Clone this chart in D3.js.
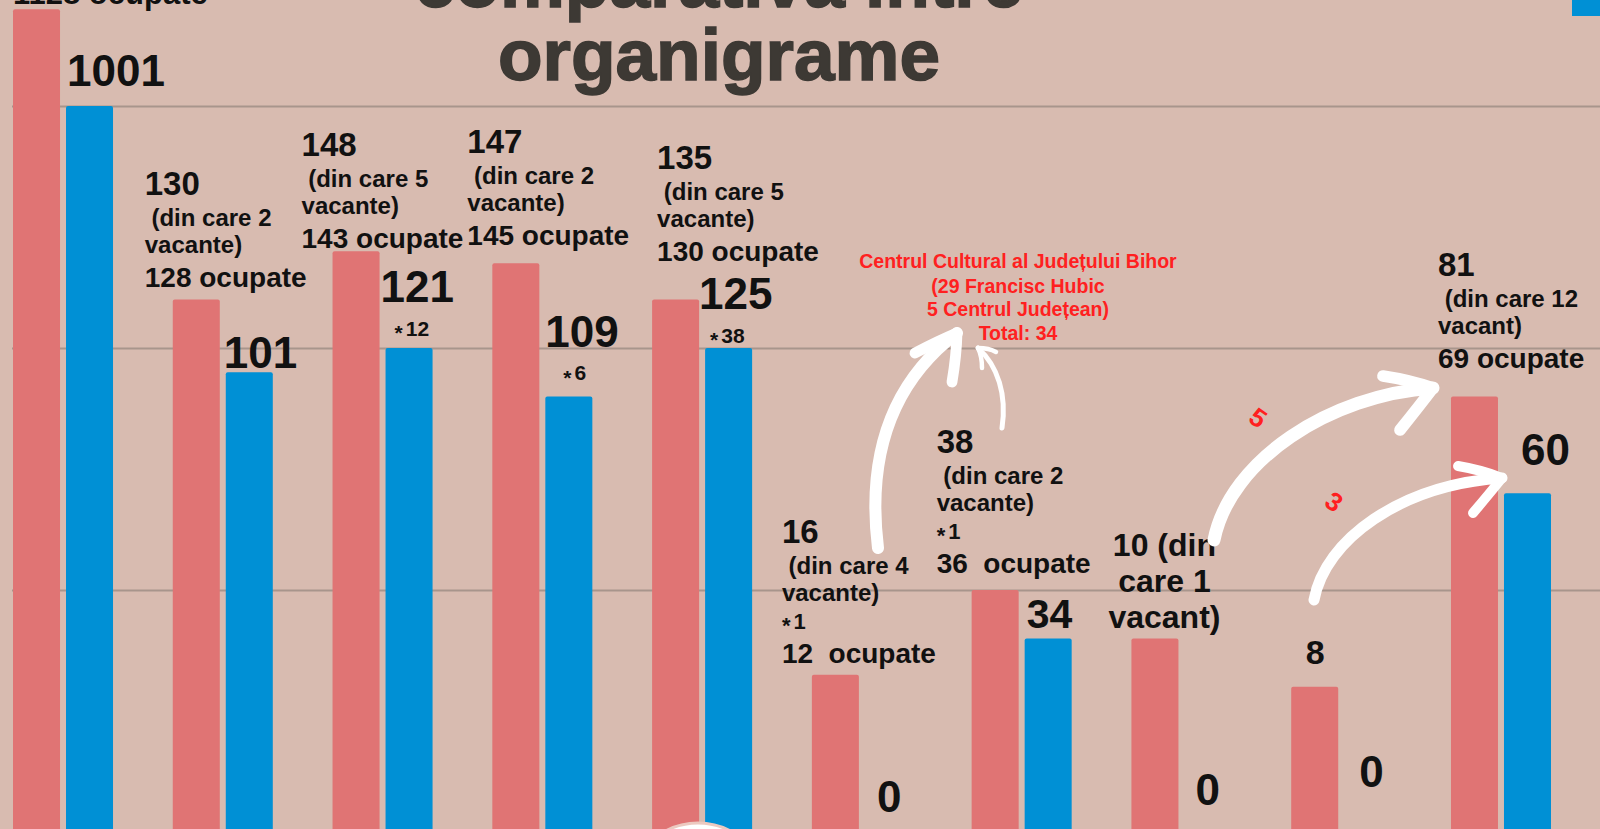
<!DOCTYPE html>
<html>
<head>
<meta charset="utf-8">
<script src="https://cdn.jsdelivr.net/npm/d3@7"></script>
<style>
  html, body { margin: 0; padding: 0; background: #d8bbb0; }
  svg { display: block; }
</style>
</head>
<body>
<div id="chart"></div>
<script>
// --- Data ---
const categories = ["g1", "g2", "g3", "g4", "g5", "g6", "g7", "g8", "g9", "g10"];
// bar heights as plotted (chart units, one gridline = 100)
const redValues = [340, 220, 240, 235, 220, 65, 100, 80, 60, 180];
const blueValues = [300, 190, 200, 180, 200, 0, 80, 0, 0, 140];

const redLabelLines = [
  ["1128 ocupate"],
  ["130", " (din care 2", "vacante)", "128 ocupate"],
  ["148", " (din care 5", "vacante)", "143 ocupate"],
  ["147", " (din care 2", "vacante)", "145 ocupate"],
  ["135", " (din care 5", "vacante)", "130 ocupate"],
  ["16", " (din care 4", "vacante)", "*1", "12  ocupate"],
  ["38", " (din care 2", "vacante)", "*1", "36  ocupate"],
  ["10 (din", "care 1", "vacant)"],
  ["8"],
  ["81", " (din care 12", "vacant)", "69 ocupate"]
];
const blueLabels = ["1001", "101", "121", "109", "125", "0", "34", "0", "0", "60"];
const blueNotes = [null, null, "*12", "*6", "*38", null, null, null, null, null];

const titleLines = ["comparativa intre", "organigrame"];
const noteLines = ["Centrul Cultural al Județului Bihor", "(29 Francisc Hubic", "5 Centrul Județean)", "Total: 34"];
const arrowNumbers = ["5", "3"];

// --- Layout (label offsets relative to the bar they describe) ---
const redBlock = [
  { dx: 0, dy: 5, size: 31 },
  { dx: -28, dy: 105 },
  { dx: -31, dy: 95 },
  { dx: -25, dy: 110 },
  { dx: 5, dy: 131 },
  { dx: -30, dy: 132 },
  { dx: -35, dy: 137 },
  { dx: 33, dy: 82, size: 32, gap: 36, anchor: "middle" },
  { dx: 24, dy: 23, size: 34, anchor: "middle" },
  { dx: -13, dy: 120 }
];
const blueBlock = [[1, 20], [-2, 4], [-5, 46], [0, 49], [-6, 39], [12, 20], [2, 10], [11, 27], [15, 45], [17, 28]];
const blueNoteBlock = [null, null, [9, 12], [18, 16], [5, 5]];

const colors = { red: "#e07474", blue: "#0090d5", bg: "#d8bbb0", grid: "#a8958c", title: "#3d3934", note: "#ff2020" };
const font = "'Liberation Sans', Arial, sans-serif";

// --- SVG Setup ---
const width = 1600, height = 829;
const svg = d3.select("#chart").append("svg")
  .attr("width", width).attr("height", height)
  .style("font-family", font);

svg.append("rect").attr("width", width).attr("height", height).attr("fill", colors.bg);

// --- Scales ---
const x0 = d3.scaleBand().domain(categories).range([13, 1551]).paddingInner(0.374).paddingOuter(0);
const x1 = d3.scaleBand().domain(["red", "blue"]).range([0, x0.bandwidth()]).paddingInner(0.113);
const y = d3.scaleLinear().domain([0, 300]).range([832, 106]);

// gridlines
const grid = svg.append("g")
  .attr("transform", "translate(12,0)")
  .call(d3.axisLeft(y).tickValues([100, 200, 300]).tickSize(-(width - 12)).tickFormat(""));
grid.select(".domain").remove();
grid.selectAll("line").attr("stroke", colors.grid).attr("stroke-width", 2);

// --- Bars ---
const series = [
  { key: "red", values: redValues, color: colors.red },
  { key: "blue", values: blueValues, color: colors.blue }
];
const barData = [];
series.forEach(s => s.values.forEach((v, i) => barData.push({ key: s.key, cat: categories[i], v, color: s.color })));

svg.append("g").selectAll("rect")
  .data(barData.filter(d => d.v > 0))
  .join("rect")
  .attr("x", d => x0(d.cat) + x1(d.key))
  .attr("y", d => y(d.v))
  .attr("width", x1.bandwidth())
  .attr("height", d => y(0) - y(d.v) + 4)
  .attr("rx", 2)
  .attr("fill", d => d.color);

// --- Title ---
svg.append("g").selectAll("text")
  .data(titleLines)
  .join("text")
  .attr("x", 719)
  .attr("y", (d, i) => 7 + i * 73)
  .attr("text-anchor", "middle")
  .attr("font-size", 73)
  .attr("font-weight", 700)
  .attr("fill", colors.title)
  .attr("stroke", colors.title)
  .attr("stroke-width", 1.5)
  .text(d => d);

// legend swatch cut at the top right
svg.append("rect").attr("x", 1572).attr("y", -14).attr("width", 40).attr("height", 30).attr("fill", colors.blue);

// --- Label helpers ---
const sizes = { n: 33, d: 24, s: 22, o: 28 };
function lineType(t, j) {
  if (t.startsWith("*")) return "s";
  if (t.includes("ocupate")) return "o";
  if (j === 0) return "n";
  return "d";
}
function gapFor(type, prev) {
  if (type === "d") return prev === "n" ? 31 : 27;
  if (type === "s") return 28;
  return 34;
}
function starText(sel, t) {
  sel.append("tspan").text("*").attr("dy", "0.2em");
  sel.append("tspan").text(t.slice(1)).attr("dy", "-0.2em").attr("dx", 3);
}

// red bar labels
const labels = svg.append("g").attr("fill", "#111").attr("font-weight", 700);
redLabelLines.forEach((lines, i) => {
  const L = redBlock[i];
  const bx = x0(categories[i]) + x1("red");
  let yy = y(redValues[i]) - L.dy;
  let prev = null;
  lines.forEach((t, j) => {
    const type = lineType(t, j);
    if (j > 0) yy += L.gap || gapFor(type, prev);
    const txt = labels.append("text")
      .attr("x", bx + L.dx)
      .attr("y", yy)
      .attr("text-anchor", L.anchor || "start")
      .attr("font-size", L.size || sizes[type])
      .style("white-space", "pre");
    if (type === "s") starText(txt, t); else txt.text(t);
    prev = type;
  });
});

// blue bar labels
blueLabels.forEach((t, i) => {
  const bx = x0(categories[i]) + x1("blue");
  const top = y(blueValues[i]);
  labels.append("text")
    .attr("x", bx + blueBlock[i][0])
    .attr("y", top - blueBlock[i][1])
    .attr("font-size", t === "34" ? 41 : 44)
    .text(t);
  if (blueNotes[i]) {
    const txt = labels.append("text")
      .attr("x", bx + blueNoteBlock[i][0])
      .attr("y", top - blueNoteBlock[i][1])
      .attr("font-size", 21);
    starText(txt, blueNotes[i]);
  }
});

// --- Annotations ---
const ann = svg.append("g");
ann.selectAll("text")
  .data(noteLines)
  .join("text")
  .attr("x", 1018)
  .attr("y", (d, i) => [268, 293, 316, 340][i])
  .attr("text-anchor", "middle")
  .attr("font-size", 19.5)
  .attr("font-weight", 700)
  .attr("fill", colors.note)
  .text(d => d);

// brush-like white arrows
const arrows = [
  { d: "M878,548 C866,450 895,380 957,333", w: 12, barbs: [[915, 353], [952, 382]] },
  { d: "M1002,428 C1007,395 998,366 978,348", w: 5, barbs: [[996, 352], [982, 368]] },
  { d: "M1214,540 C1230,460 1330,395 1433,388", w: 13, barbs: [[1383, 376], [1400, 430]] },
  { d: "M1314,600 C1325,540 1400,485 1502,478", w: 11, barbs: [[1458, 466], [1473, 513]] }
];
arrows.forEach(a => {
  const g = ann.append("g").attr("fill", "none").attr("stroke", "#fff").attr("stroke-linecap", "round").attr("stroke-linejoin", "round");
  g.append("path").attr("d", a.d).attr("stroke-width", a.w);
  const tip = a.d.trim().split(" ").pop().split(",").map(Number);
  a.barbs.forEach(b => {
    g.append("path")
      .attr("d", `M${b[0]},${b[1]} Q${(b[0] + tip[0]) / 2 + 2},${(b[1] + tip[1]) / 2 - 2} ${tip[0]},${tip[1]}`)
      .attr("stroke-width", a.w * 0.9);
  });
});

ann.selectAll(".num")
  .data(arrowNumbers)
  .join("text")
  .attr("class", "num")
  .attr("transform", (d, i) => i === 0 ? "translate(1247,421) rotate(35)" : "translate(1323,505) rotate(35)")
  .attr("font-size", 26)
  .attr("font-weight", 700)
  .attr("fill", colors.note)
  .text(d => d);

// cut-off badge at the bottom
svg.append("circle").attr("cx", 698).attr("cy", 891).attr("r", 68)
  .attr("fill", "#fff").attr("stroke", "#ecc9c0").attr("stroke-width", 3);
</script>
</body>
</html>
